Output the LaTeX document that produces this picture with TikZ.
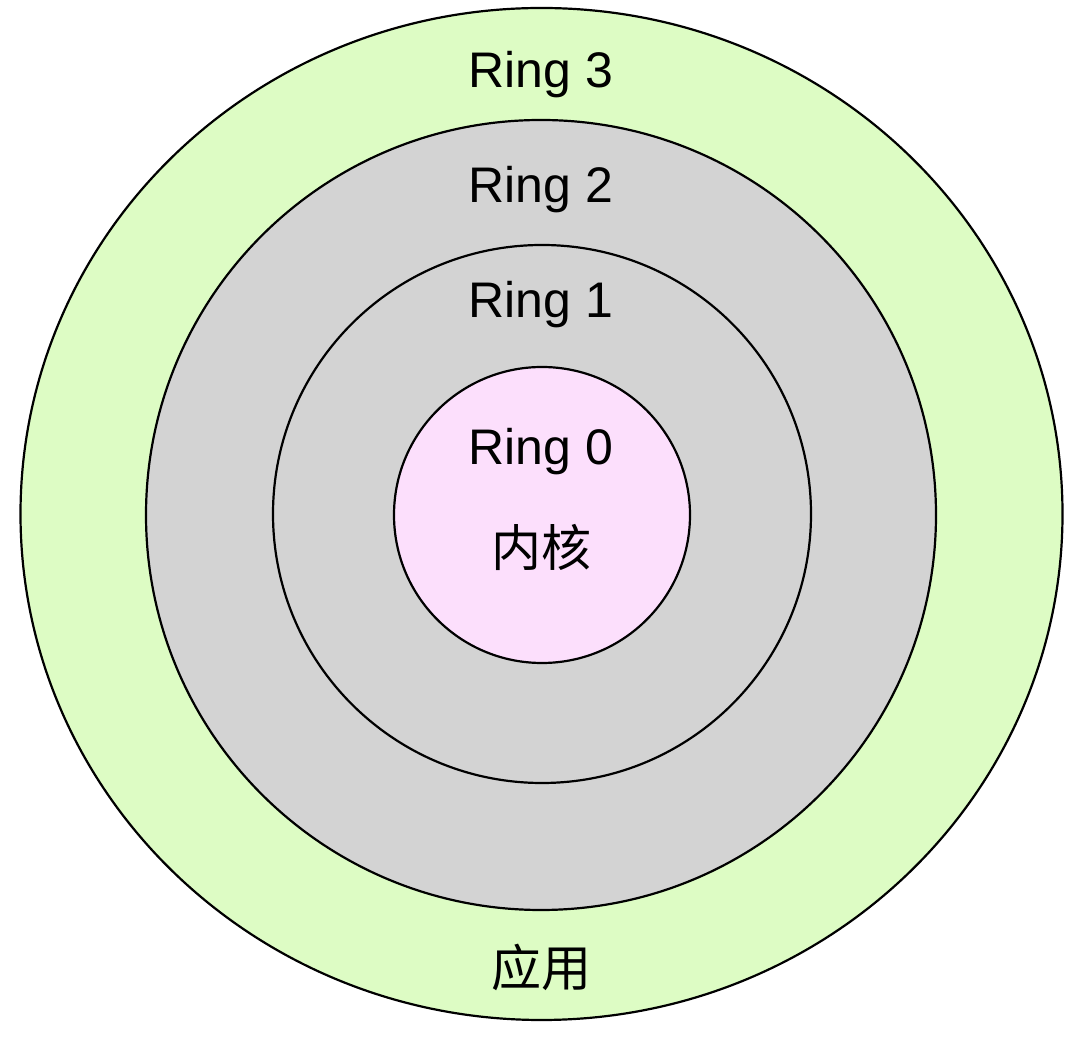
\documentclass[tikz,border=0pt]{standalone}
\usepackage{fontspec}
\setmainfont{Liberation Sans}
\newfontfamily\cjk{Noto Sans CJK SC}
\definecolor{userfill}{RGB}{221,252,196}
\definecolor{midfill}{RGB}{211,211,211}
\definecolor{kernfill}{RGB}{252,223,252}
\tikzset{
  ringline/.style={draw=black, line width=1.1pt},
  ringlabel/.style={anchor=base, inner sep=0pt, font=\fontsize{25}{30}\selectfont},
  cjklabel/.style={anchor=center, inner sep=0pt, font=\cjk\fontsize{25}{30}\selectfont}
}
\begin{document}
\begin{tikzpicture}[x=0.5pt, y=0.5pt]
  \useasboundingbox (0,0) rectangle (1086,1038);
  % rings, outside in
  \draw[ringline, fill=userfill] (541.5,524) ellipse [x radius=521, y radius=506];
  \draw[ringline, fill=midfill] (541,523) circle [radius=395];
  \draw[ringline, fill=midfill] (542,524) circle [radius=269];
  \draw[ringline, fill=kernfill] (542,523) circle [radius=148];
  % labels
  \node[ringlabel] (ring3) at (541,950) {Ring 3};
  \node[ringlabel] (ring2) at (541,835) {Ring 2};
  \node[ringlabel] (ring1) at (541,720) {Ring 1};
  \node[ringlabel] (ring0) at (541,573) {Ring 0};
  \node[cjklabel] (kernel) at (541,491) {内核};
  \node[cjklabel] (app) at (541,71) {应用};
\end{tikzpicture}
\end{document}
